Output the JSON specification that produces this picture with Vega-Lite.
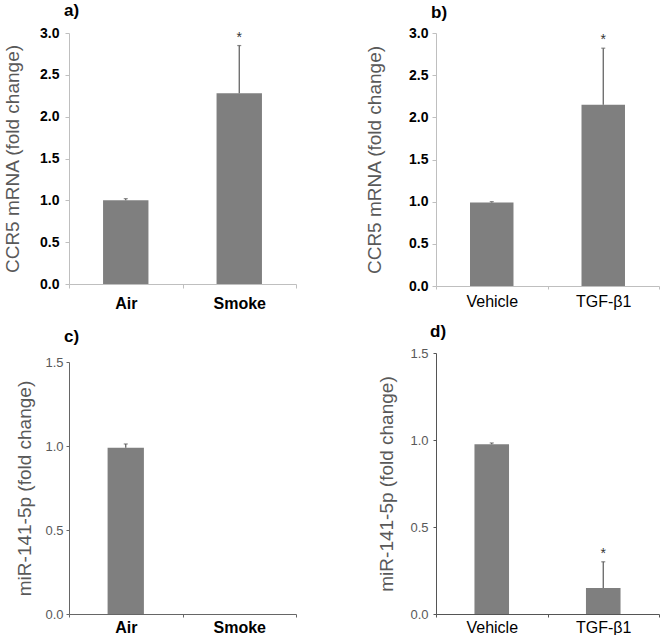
{
  "$schema": "https://vega.github.io/schema/vega-lite/v6.json",
  "padding": {"left": 3, "top": 2, "right": 0, "bottom": 0},
  "background": "white",
  "columns": 2,
  "bounds": "flush",
  "align": "each",
  "spacing": {"row": 67, "column": 140},
  "config": {
    "view": {"stroke": null},
    "font": "Liberation Sans",
    "axis": {"grid": false, "labelFont": "Liberation Sans", "titleFont": "Liberation Sans", "labelOverlap": false},
    "title": {"font": "Liberation Sans", "fontSize": 17, "fontWeight": "bold", "color": "#000000", "anchor": "start", "frame": "group", "baseline": "top"}
  },
  "concat": [
    {
      "width": 227,
      "height": 251,
      "title": {"text": "a)", "dx": -5, "offset": 6},
      "data": {"values": [
        {"group": "Air", "value": 1.0, "upper": 1.02, "sig": ""},
        {"group": "Smoke", "value": 2.28, "upper": 2.85, "sig": "*"}
      ]},
      "encoding": {
        "x": {"field": "group", "type": "nominal", "sort": null,
          "scale": {"paddingInner": 0, "paddingOuter": 0},
          "axis": {"title": null, "labelAngle": 0, "labelFontSize": 16, "labelFontWeight": "bold", "labelColor": "#000000", "tickSize": 4, "labelPadding": 7, "tickBand": "extent", "domainColor": "#bfbfbf", "tickColor": "#bfbfbf"}}
      },
      "layer": [
        {"mark": {"type": "bar", "color": "#7f7f7f", "width": {"band": 0.4}},
         "encoding": {"y": {"field": "value", "type": "quantitative", "scale": {"domain": [0, 3], "nice": false},
           "axis": {"title": "CCR5 mRNA (fold change)", "values": [0, 0.5, 1, 1.5, 2, 2.5, 3], "format": ".1f", "labelFontSize": 14, "labelFontWeight": "bold", "labelColor": "#000000", "tickSize": 4, "labelPadding": 6, "domainColor": "#bfbfbf", "tickColor": "#bfbfbf", "titleFontSize": 19, "titleFontWeight": "normal", "titleColor": "#595959", "titlePadding": 16.5, "minExtent": 30, "maxExtent": 30}}}},
        {"mark": {"type": "rule", "color": "#595959", "strokeWidth": 1.2},
         "encoding": {"y": {"field": "value", "type": "quantitative"}, "y2": {"field": "upper"}}},
        {"mark": {"type": "tick", "orient": "horizontal", "size": 4, "thickness": 1.2, "color": "#595959"},
         "encoding": {"y": {"field": "upper", "type": "quantitative"}}},
        {"mark": {"type": "text", "dy": -4, "baseline": "alphabetic", "fontSize": 14, "color": "#333333"},
         "encoding": {"y": {"field": "upper", "type": "quantitative"}, "text": {"field": "sig"}}}
      ]
    },
    {
      "width": 223,
      "height": 253,
      "title": {"text": "b)", "dx": -5, "offset": 4.5},
      "data": {"values": [
        {"group": "Vehicle", "value": 0.99, "upper": 1.0, "sig": ""},
        {"group": "TGF-β1", "value": 2.15, "upper": 2.82, "sig": "*"}
      ]},
      "encoding": {
        "x": {"field": "group", "type": "nominal", "sort": null,
          "scale": {"paddingInner": 0, "paddingOuter": 0},
          "axis": {"title": null, "labelAngle": 0, "labelFontSize": 16, "labelFontWeight": "normal", "labelColor": "#000000", "tickSize": 3, "labelPadding": 4, "tickBand": "extent", "domainColor": "#bfbfbf", "tickColor": "#bfbfbf"}}
      },
      "layer": [
        {"mark": {"type": "bar", "color": "#7f7f7f", "width": {"band": 0.39}},
         "encoding": {"y": {"field": "value", "type": "quantitative", "scale": {"domain": [0, 3], "nice": false},
           "axis": {"title": "CCR5 mRNA (fold change)", "values": [0, 0.5, 1, 1.5, 2, 2.5, 3], "format": ".1f", "labelFontSize": 14, "labelFontWeight": "bold", "labelColor": "#000000", "tickSize": 4, "labelPadding": 4, "domainColor": "#bfbfbf", "tickColor": "#bfbfbf", "titleFontSize": 19, "titleFontWeight": "normal", "titleColor": "#595959", "titlePadding": 21.5, "minExtent": 30, "maxExtent": 30}}}},
        {"mark": {"type": "rule", "color": "#595959", "strokeWidth": 1.2},
         "encoding": {"y": {"field": "value", "type": "quantitative"}, "y2": {"field": "upper"}}},
        {"mark": {"type": "tick", "orient": "horizontal", "size": 4, "thickness": 1.2, "color": "#595959"},
         "encoding": {"y": {"field": "upper", "type": "quantitative"}}},
        {"mark": {"type": "text", "dy": -4, "baseline": "alphabetic", "fontSize": 14, "color": "#333333"},
         "encoding": {"y": {"field": "upper", "type": "quantitative"}, "text": {"field": "sig"}}}
      ]
    },
    {
      "width": 227,
      "height": 261,
      "title": {"text": "c)", "dx": -5, "offset": 7.5},
      "data": {"values": [
        {"group": "Air", "value": 0.99, "upper": 1.012, "sig": ""},
        {"group": "Smoke", "value": 0, "upper": null, "sig": ""}
      ]},
      "encoding": {
        "x": {"field": "group", "type": "nominal", "sort": null,
          "scale": {"paddingInner": 0, "paddingOuter": 0},
          "axis": {"title": null, "labelAngle": 0, "labelFontSize": 16, "labelFontWeight": "bold", "labelColor": "#000000", "tickSize": 3, "labelPadding": 2, "tickBand": "extent", "domainColor": "#666666", "tickColor": "#666666"}}
      },
      "layer": [
        {"mark": {"type": "bar", "color": "#7f7f7f", "width": {"band": 0.32}},
         "encoding": {"y": {"field": "value", "type": "quantitative", "scale": {"domain": [0, 1.5], "nice": false, "range": [261, 9]},
           "axis": {"title": "miR-141-5p (fold change)", "values": [0, 0.5, 1, 1.5], "format": ".1f", "labelFontSize": 13, "labelFontWeight": "normal", "labelColor": "#595959", "tickSize": 3, "labelPadding": 3, "domainColor": "#666666", "tickColor": "#666666", "titleFontSize": 19, "titleFontWeight": "normal", "titleColor": "#595959", "titlePadding": 10.5, "minExtent": 24, "maxExtent": 24}}}},
        {"mark": {"type": "rule", "color": "#595959", "strokeWidth": 1.2},
         "encoding": {"y": {"field": "value", "type": "quantitative"}, "y2": {"field": "upper"}}},
        {"mark": {"type": "tick", "orient": "horizontal", "size": 4, "thickness": 1.2, "color": "#595959"},
         "encoding": {"y": {"field": "upper", "type": "quantitative"}}}
      ]
    },
    {
      "width": 223,
      "height": 261,
      "title": {"text": "d)", "dx": -6, "offset": 6.5},
      "data": {"values": [
        {"group": "Vehicle", "value": 0.975, "upper": 0.983, "sig": ""},
        {"group": "TGF-β1", "value": 0.15, "upper": 0.3, "sig": "*"}
      ]},
      "encoding": {
        "x": {"field": "group", "type": "nominal", "sort": null,
          "scale": {"paddingInner": 0, "paddingOuter": 0},
          "axis": {"title": null, "labelAngle": 0, "labelFontSize": 16, "labelFontWeight": "normal", "labelColor": "#000000", "tickSize": 3, "labelPadding": 2, "tickBand": "extent", "domainColor": "#555555", "tickColor": "#555555"}}
      },
      "layer": [
        {"mark": {"type": "bar", "color": "#7f7f7f", "width": {"band": 0.31}},
         "encoding": {"y": {"field": "value", "type": "quantitative", "scale": {"domain": [0, 1.5], "nice": false},
           "axis": {"title": "miR-141-5p (fold change)", "values": [0, 0.5, 1, 1.5], "format": ".1f", "labelFontSize": 13, "labelFontWeight": "normal", "labelColor": "#595959", "tickSize": 3, "labelPadding": 5, "domainColor": "#555555", "tickColor": "#555555", "titleFontSize": 19, "titleFontWeight": "normal", "titleColor": "#595959", "titlePadding": 15.5, "minExtent": 24, "maxExtent": 24}}}},
        {"mark": {"type": "rule", "color": "#595959", "strokeWidth": 1.2},
         "encoding": {"y": {"field": "value", "type": "quantitative"}, "y2": {"field": "upper"}}},
        {"mark": {"type": "tick", "orient": "horizontal", "size": 4, "thickness": 1.2, "color": "#595959"},
         "encoding": {"y": {"field": "upper", "type": "quantitative"}}},
        {"mark": {"type": "text", "dy": -4, "baseline": "alphabetic", "fontSize": 14, "color": "#333333"},
         "encoding": {"y": {"field": "upper", "type": "quantitative"}, "text": {"field": "sig"}}}
      ]
    }
  ]
}
